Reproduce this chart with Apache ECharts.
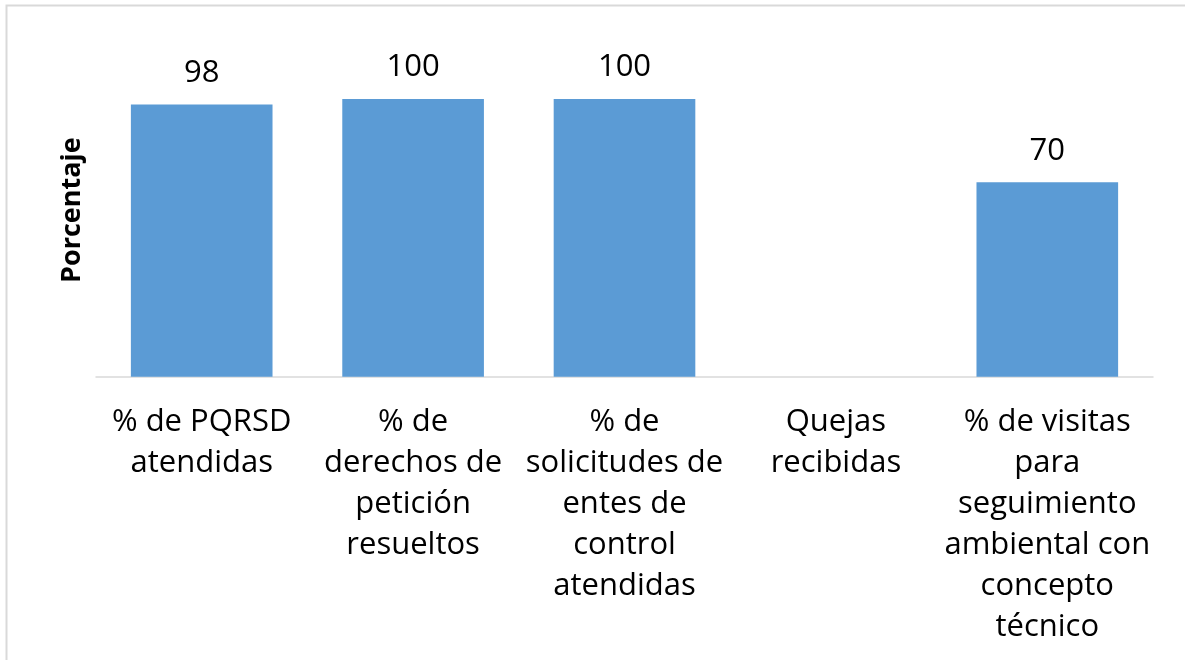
<!DOCTYPE html>
<html><head><meta charset="utf-8">
<script src="https://cdn.jsdelivr.net/npm/echarts@6/dist/echarts.min.js"></script>
<style>html,body{margin:0;padding:0;background:#fff}#c{width:1185px;height:660px}</style>
</head><body><div id="c"></div>
<script>
const categories = [
  "% de PQRSD\natendidas",
  "% de\nderechos de\npetición\nresueltos",
  "% de\nsolicitudes de\nentes de\ncontrol\natendidas",
  "Quejas\nrecibidas",
  "% de visitas\npara\nseguimiento\nambiental con\nconcepto\ntécnico"
];
const values = [98, 100, 100, null, 70];
const yTitle = "Porcentaje";

const chart = echarts.init(document.getElementById('c'), null, {renderer:'canvas'});
chart.setOption({
  animation:false,
  backgroundColor:'#fff',
  graphic:[{type:'rect', shape:{x:6.5,y:5.5,width:1200,height:700}, style:{fill:'none',stroke:'#d9d9d9',lineWidth:2}, silent:true}],
  grid:{left:96, right:32, top:43.5, bottom:283.3, containLabel:false},
  xAxis:{type:'category', data:categories,
    axisLine:{lineStyle:{color:'#d9d9d9', width:1.5}}, axisTick:{show:false},
    axisLabel:{interval:0, color:'#000', fontFamily:'Open Sans', fontSize:31, lineHeight:41, margin:25}},
  yAxis:{type:'value', min:0, max:120, interval:20, name:yTitle, nameLocation:'middle', nameGap:10,
    nameTextStyle:{fontFamily:'Open Sans', fontWeight:'bold', fontSize:27, color:'#000'},
    axisLabel:{show:false}, axisLine:{show:false}, axisTick:{show:false}, splitLine:{show:false}},
  series:[{type:'bar', data:values, barCategoryGap:'33%',
    itemStyle:{color:'#5b9bd5'},
    label:{show:true, position:'top', distance:16, color:'#000', fontFamily:'Open Sans', fontSize:31}}]
});
</script></body></html>
